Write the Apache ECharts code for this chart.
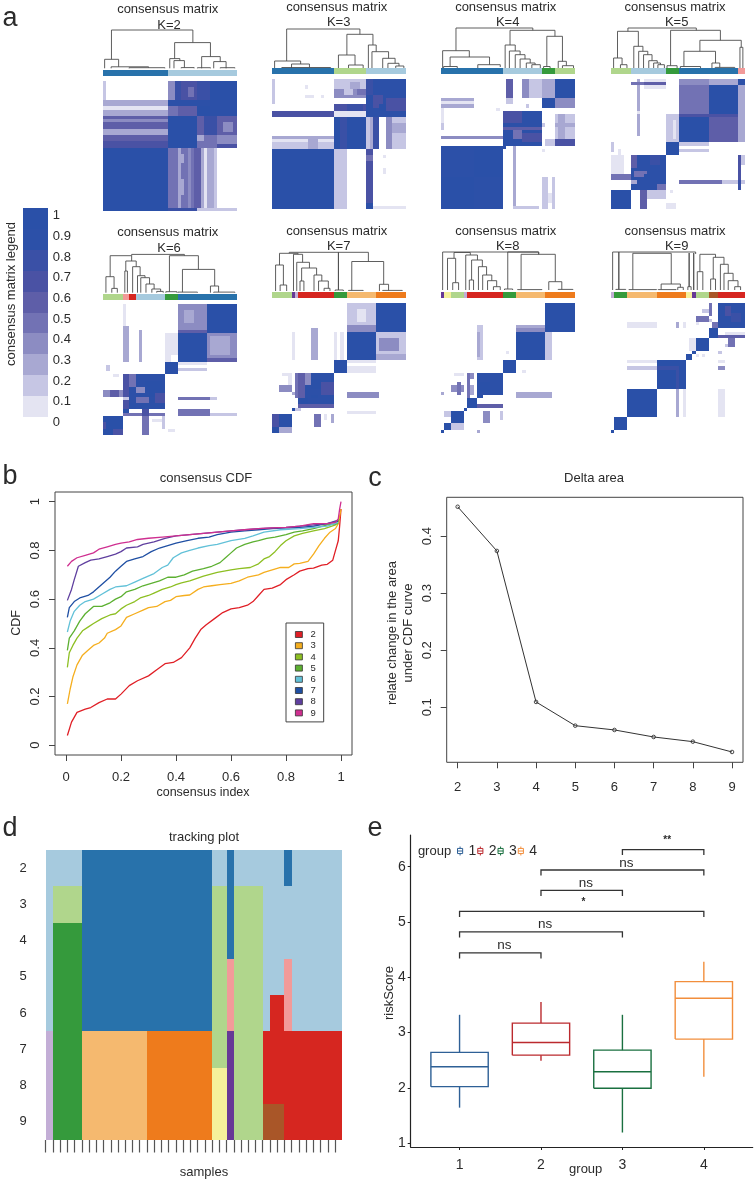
<!DOCTYPE html>
<html><head><meta charset="utf-8">
<style>html,body{margin:0;padding:0;background:#fff}#c{width:755px;height:1181px}</style>
<script src="https://cdn.jsdelivr.net/npm/echarts@6/dist/echarts.min.js"></script>
</head><body><div id="c"></div>
<script>
// ---------- shared ----------
const FONT = '"Liberation Sans", Arial, sans-serif';
const TXT = '#2b2b2b';
const sampleCount = 41;
// consensus legend, top band (1) to bottom band (0.1)
const legendLabels = [1,0.9,0.8,0.7,0.6,0.5,0.4,0.3,0.2,0.1,0];
const consensusColors = ['#2a50a8','#2c50a8','#3a50a6','#4a52a4','#5e5ea8','#7272b4','#8c8cc2','#a8a8d2','#c6c6e4','#e4e4f2'];
// cluster palette
const LB='#a6cade',BL='#2872ab',LG='#b0d68c',GR='#359a3c',PK='#f29a99',RD='#d62620',LO='#f5b96f',OR='#ee7b1c',LI='#c3aed6',PU='#663996',YE='#f5f19b',BR='#a95628';

// ---------- panel a: cluster bars, run lists [count,colour] ----------
const bar2=[[20,BL],[21,LB]];
const bar3=[[19,BL],[10,LG],[12,LB]];
const bar4=[[19,BL],[12,LB],[4,GR],[6,LG]];
const bar5=[[6,LG],[11,LB],[4,GR],[18,BL],[2,PK]];
const bar6=[[6,LG],[2,PK],[2,RD],[9,LB],[4,GR],[18,BL]];
const bar7=[[6,LG],[1,PU],[1,LI],[11,RD],[4,GR],[9,LO],[9,OR]];
const bar8=[[1,PU],[2,YE],[4,LG],[1,LI],[11,RD],[4,GR],[9,LO],[9,OR]];
const bar9=[[1,LI],[4,GR],[9,LO],[9,OR],[2,YE],[1,PU],[4,LG],[3,BR],[8,RD]];

// ---------- panel a: consensus blocks [col0,col1,row0,row1,value], later blocks overwrite ----------
const blocks2=[[0,20,21,41,1],[20,23,21,41,.5],[23,24,21,41,.3],[24,28,21,41,.5],[24,25,23,26,.3],[24,25,31,36,.3],[26,27,21,40,.4],[28,30,21,41,.6],[30,31,21,41,.3],[31,32,21,41,.1],[32,34,21,41,.3],[34,35,21,41,.2],[20,29,40,41,.8],[29,41,40,41,.2],
[0,1,0,6,.2],[0,20,6,8,.3],[0,20,8,9,.1],[0,20,9,11,.3],[0,20,11,21,.6],[0,20,12,13,.4],[0,20,15,17,.3],[0,20,19,21,.7],
[20,22,0,6,.4],[22,24,0,6,.8],[24,29,0,6,.7],[26,28,2,5,.5],[29,33,0,6,.85],[33,41,0,6,1],[20,41,6,8,.9],[20,23,8,11,.5],[23,29,8,11,.65],[29,33,8,11,1],[33,41,8,11,.9],
[20,29,11,21,1],[29,31,11,17,.6],[31,35,11,17,.8],[35,41,11,17,.6],[37,40,13,16,.4],[29,35,17,21,.5],[35,41,17,21,.4],[35,41,20,21,.7],[29,31,17,19,.3]];
const blocks3=[[0,1,0,8,.2],[10,11,2,3,.1],[10,13,5,6,.1],[15,16,5,6,.1],[0,19,10,12,.7],[0,19,18,19,.3],[0,19,19,20,.15],[0,19,20,22,.25],[11,14,18,22,.3],[0,19,22,41,1],
[19,29,0,3,.2],[24,27,1,3,.35],[19,29,3,6,.4],[22,25,3,5,.2],[26,29,3,5,.5],[19,29,8,10,.7],[23,28,8,10,.85],[19,29,10,12,.1],[19,29,12,22,1],[21,23,12,22,.85],[19,23,22,41,.2],[19,21,22,32,.25],
[29,41,0,12,.9],[29,31,0,5,.8],[31,34,5,9,.7],[33,35,8,10,1],[29,30,10,12,1],[35,41,6,10,.75],[29,30,12,22,.25],[30,31,12,22,.35],[31,33,12,22,.8],[33,35,12,22,0],[35,37,12,22,.45],[37,41,12,22,.2],[37,41,14,17,.3],[29,31,22,41,.7],[29,31,24,26,.5],[29,31,39,41,.9],[31,41,40,41,.15],[34,35,24,25,.1],[34,35,28,30,.1]];
const blocks4=[[0,10,6,7,.3],[0,10,7,8,.15],[0,10,8,9,.35],[0,1,9,15,.15],[0,1,14,16,.2],[17,18,9,10,.15],[0,19,18,19,.4],[20,22,0,6,.6],[20,22,6,8,.25],[25,27,0,6,.4],[27,31,0,6,.2],[31,35,0,6,.35],[35,41,0,6,1],[31,35,6,9,1],[35,41,6,9,.4],[26,27,8,9,.2],
[19,31,10,21,.9],[19,25,10,14,.7],[22,25,16,19,.5],[19,31,15,16,.6],[19,21,19,21,1],[25,31,17,20,.75],[31,32,14,15,.2],[35,41,11,19,.2],[36,38,11,19,.3],[35,41,14,15,.35],[35,41,19,21,.75],[32,35,19,21,.2],
[0,19,21,41,1],[0,10,21,31,.9],[10,19,31,41,.9],[19,20,21,22,.9],[22,23,21,41,.3],[31,33,31,41,.25],[34,35,31,41,.25],[33,34,36,39,.15],[22,30,40,41,.2],[31,32,22,23,.15]];
const blocks5=[[21,30,0,2,.4],[30,39,0,2,.3],[39,41,0,2,.9],[21,30,2,11,.55],[30,39,2,11,1],[39,41,2,20,.3],[21,30,11,20,1],[30,39,11,20,.6],[21,39,11,12,.75],
[17,21,11,20,.2],[19,20,13,19,.1],[8,9,0,18,.3],[8,9,10,11,.1],[6,17,1,2,.5],[10,17,0,3,.15],[10,17,1,2,.6],
[17,21,20,24,1],[21,30,20,21,.2],[21,30,22,23,.2],[0,1,20,23,.2],[2,3,22,24,.1],
[6,17,24,35,.9],[6,8,24,28,.6],[12,15,24,27,.8],[7,11,29,31,.5],[10,12,30,32,1],[6,8,33,35,1],[0,2,24,30,.15],[2,4,24,30,.15],[0,6,30,32,.5],[6,8,32,33,.3],[14,17,33,35,.5],
[0,6,35,41,1],[9,11,35,41,.6],[11,17,35,38,.2],[17,20,39,41,.15],[18,19,35,36,.15],
[39,40,24,35,.7],[40,41,24,27,.2],[21,34,32,33,.5],[34,41,32,33,.2],[39,40,32,35,.8]];
const blocks6=[[23,32,0,9,.45],[25,28,2,6,.35],[23,32,8,9,.6],[32,41,0,9,1],[23,32,9,18,1],[32,41,9,18,.45],[33,39,10,16,.35],[32,41,17,18,.6],[6,7,0,7,.1],[6,8,7,18,.35],[11,12,8,18,.35],[19,21,9,18,.15],[21,23,9,16,.15],
[19,23,18,22,1],[23,32,18,19,.15],[23,32,20,21,.2],[1,2,19,21,.2],[3,5,22,23,.15],
[8,19,22,33,.9],[8,10,22,26,.5],[6,8,22,33,.7],[13,18,24,27,1],[10,13,26,28,.4],[14,16,27,29,1],[16,19,28,31,.7],[10,14,29,31,.5],[0,6,27,29,.4],[2,5,27,29,.6],[8,10,31,33,1],[6,8,29,30,.2],[6,8,33,34,1],[6,19,34,35,.5],[12,14,33,35,.75],
[23,33,29,30,.5],[33,35,29,30,.2],[23,33,33,35,.5],[33,41,34,35,.2],[0,6,35,41,1],[0,1,37,39,.7],[3,6,39,41,.7],[12,14,35,41,.5],[15,19,36,37,.15],[18,19,35,39,.2],[20,22,39,40,.15]];
const blocks7=[[23,32,0,9,.25],[26,29,2,6,.15],[23,32,7,9,.45],[32,41,0,9,1],[23,32,9,18,1],[32,41,9,18,.25],[33,39,11,15,.4],[32,41,16,18,.35],[6,7,9,18,.15],[12,14,8,18,.35],[19,20,9,18,.12],[21,22,9,18,.12],
[19,23,18,22,1],[23,32,18,19,.15],[23,32,20,22,.15],[3,6,22,23,.15],[5,6,23,26,.15],
[8,19,22,32,.9],[10,12,22,26,.4],[8,10,22,30,.6],[7,8,22,30,.5],[12,15,24,27,1],[15,19,25,29,.7],[2,6,26,28,.45],[6,7,28,29,.3],[12,14,29,30,1],[9,11,30,33,1],[8,19,32,33,.6],[6,7,33,34,1],[7,9,33,34,.2],
[23,33,28,30,.4],[23,32,34,35,.15],[2,6,35,39,1],[0,2,35,39,.7],[0,2,39,41,1],[2,6,39,41,.3],[13,15,35,39,.5],[18,19,35,38,.3],[16,17,35,37,.15]];
const blocks8=[[32,41,0,9,1],[23,32,7,9,.3],[23,32,8,9,.4],[32,34,9,18,.25],[23,32,9,18,1],[11,13,7,18,.25],[11,12,9,17,.35],[20,21,15,16,.15],
[19,23,18,22,1],[25,26,21,22,.15],[8,9,22,32,.5],[4,7,22,23,.15],[11,19,22,29,.9],[12,15,25,28,1],[9,10,22,24,.4],[9,10,26,29,.3],[3,7,26,28,.4],[5,6,25,29,.5],[0,1,28,29,.3],[23,34,28,30,.3],[8,11,30,33,1],[11,13,29,30,1],[11,19,32,33,.6],[7,8,33,34,1],
[3,7,34,38,1],[1,3,34,36,.2],[13,15,34,38,.4],[18,19,34,37,.2],[1,3,38,40,1],[3,7,38,40,.25],[0,1,40,41,1],[11,12,40,41,.3]];
const blocks9=[[33,41,0,8,.9],[35,37,1,4,.75],[37,40,3,6,.8],[30,31,0,4,.5],[28,30,2,3,.2],[26,30,4,6,.5],[30,31,5,6,.2],[5,14,6,8,.15],[20,21,6,8,.3],[22,23,6,8,.15],[26,27,6,7,.15],[31,33,6,8,.5],
[30,33,8,11,1],[33,41,10,11,.6],[35,41,9,10,.15],[36,38,11,14,.5],[35,36,13,14,.2],[26,30,11,15,1],[24,26,11,15,.15],[25,26,15,16,1],[23,25,16,18,1],[26,27,16,17,.15],[28,29,16,17,.15],[33,34,15,16,.2],
[14,23,18,27,1],[20,21,20,27,.8],[5,14,18,19,.15],[5,14,20,21,.25],[14,20,20,21,.8],[33,35,18,19,.15],[33,35,20,21,.4],[5,14,27,36,1],[20,21,27,36,.3],[22,23,27,36,.1],[33,35,27,36,.15],[1,5,36,40,1],[0,1,40,41,1]];

// ---------- panel a: dendrogram merges [x1,h1,x2,h2,top] (sample position, height) ----------
const dend2=[[2.6,9,27.6,25.7,38.3],[.5,0,4.8,1.5,9],[2.5,0,14,.6,1.5],[8,0,19,0,.6],[22,9.7,33,11.7,25.7],[20.5,0,23.6,7.7,9.7],[21.8,0,25,.7,7.7],[24,0,28,0,.7],[30.3,0,36,6.7,11.7],[34,0,37.8,0,6.7],[29,0,33,0,.6],[36,0,40.5,0,.6]];
const dend3=[[4.5,7,27,33.7,39],[.8,0,8.8,4,7],[6,0,11.5,.5,4],[3,0,18,0,.5],[23,13,31,23,33.7],[20.4,0,25.5,3,13],[23.5,0,28,0,3],[29.6,0,32,16.3,23],[30.7,0,35.8,9.7,16.3],[34,0,37.8,4.7,9.7],[35.6,0,39,2,4.7],[38,0,40.5,0,2]];
const dend4=[[4.6,17.3,28.2,37.7,40],[.5,0,8.7,11,17.3],[2.8,1.5,14.9,3.3,11],[.8,0,5,0,1.5],[11.3,0,18.2,1,3.3],[21.2,23,35,31.7,37.7],[19.7,0,22.8,17,23],[21,0,24.3,13.3,17],[22.8,0,25.8,9,13.3],[24.3,0,27.4,5,9],[26.2,0,28.9,3.3,5],[27.9,0,30.5,0,3.3],[32.5,1.5,37.3,6.7,31.7],[31.5,0,33.5,0,1.5],[36,0,38.5,2.3,6.7],[37.3,0,40.7,0,2.3]];
const dend5=[[5.2,36.7,26.2,37.7,40],[2,10,8.4,21.7,36.7],[.8,0,3.4,3.3,10],[2.9,0,4.9,0,3.3],[7,0,9.8,16.7,21.7],[8.5,0,11.3,13.3,16.7],[10,0,12.6,7.3,13.3],[11.6,0,14.2,5,7.3],[13.1,0,15.2,3.3,5],[14.4,0,16.4,0,3.3],[18.3,2.3,33.6,27.7,37.7],[17.2,0,20.3,0,2.3],[27.3,16.7,40,20.7,27.7],[22.4,1.5,32.1,5,16.7],[21.3,0,27.5,0,1.5],[31,0,33.4,.6,5],[32,0,38,0,.6],[39.6,0,40.5,0,20.7]];
const dend6=[[8.8,37,25,37,38.3],[2.2,16,8.8,31.7,37],[.9,0,3.4,4.3,16],[2.7,0,4.4,0,4.3],[7,21.7,10.2,26,31.7],[6.7,0,7.5,0,21.7],[9.1,0,11.4,17,26],[10.6,0,12.9,15,17],[11.6,0,14.3,8.7,15],[13.2,0,15.7,3.7,8.7],[15,0,17.7,1.3,3.7],[16.5,0,18.5,0,1.3],[20.4,1,29.3,23.3,37],[19.3,0,22.7,0,1],[24.4,.6,34.3,6.7,23.3],[23,0,29,0,.6],[33,0,35.5,.6,6.7],[34,0,40.5,0,.6]];
const dend7=[[5.3,37.7,29.6,29.5,38.7],[2.3,26,8,36.7,37.7],[1.1,0,3.5,6,26],[2.5,0,4.5,0,6],[6.6,0,9.4,28.7,36.7],[7.6,0,11.5,23,28.7],[9.1,10,13.7,16,23],[8.6,0,9.8,0,10],[12.9,0,15.3,10,16],[14.3,0,17.3,2.7,10],[16,0,17.8,0,2.7],[20.4,1,20.4,1,38.7],[19.4,0,21.9,0,1],[24.5,.6,34.3,6.7,29.5],[23.5,0,28,0,.6],[33,0,35.8,.6,6.7],[34,0,40,0,.6]];
const dend8=[[.5,0,30,35.7,38],[20.5,1,30,35.7,38],[19.5,0,22,0,1],[24.6,.4,35.1,8.3,35.7],[23.5,0,31,0,.4],[33.1,0,37.1,.6,8.3],[36,0,40.5,0,.6],[4,31.7,9,35,37.5],[2,0,4.5,7.3,31.7],[3.6,0,5.4,0,7.3],[7.6,0,11.2,30,35],[9.4,10,12.7,23.3,30],[8.7,0,10,0,10],[11.5,0,14,15,23.3],[12.8,0,15.6,9.3,15],[14.3,0,17.1,3.3,9.3],[16.1,0,18.2,0,3.3]];
const dend9=[[.5,0,26,36,38],[2.4,.6,2.4,.6,38],[1.5,0,4.5,0,.6],[6.7,.4,18.5,6,36.7],[5.5,0,14,0,.4],[15.4,.4,21.3,2.7,6],[14.5,0,20,0,.4],[20.5,0,22.2,0,2.7],[24,3.3,24,3.3,37],[23.6,0,24.6,0,3.3],[25.4,0,25.4,0,37],[27.3,18.3,32.1,32.7,35.7],[26.5,0,28.2,0,18.3],[31.4,11,34.7,25.7,32.7],[30.6,0,32.1,0,11],[33.6,0,36,16.7,25.7],[34.7,0,37.5,9.3,16.7],[36,0,39,3.3,9.3],[38,0,39.8,0,3.3]];

// ---------- panel b: CDF curves, [consensus index, CDF] ----------
const cdf2=[[.005,.04],[.02,.095],[.04,.135],[.07,.148],[.09,.155],[.12,.175],[.15,.19],[.18,.19],[.2,.21],[.23,.245],[.26,.265],[.3,.285],[.33,.31],[.36,.335],[.39,.34],[.42,.36],[.45,.4],[.47,.44],[.49,.475],[.51,.495],[.54,.52],[.57,.545],[.6,.56],[.63,.565],[.66,.575],[.68,.59],[.7,.615],[.72,.64],[.75,.645],[.78,.66],[.8,.68],[.83,.7],[.85,.715],[.88,.725],[.9,.727],[.93,.74],[.95,.743],[.97,.76],[.98,.8],[.99,.84],[.995,.9],[1,.97]];
const cdf3=[[.005,.17],[.015,.23],[.025,.28],[.04,.33],[.06,.37],[.08,.39],[.1,.41],[.12,.42],[.14,.44],[.15,.46],[.18,.475],[.2,.49],[.22,.525],[.25,.54],[.28,.555],[.3,.565],[.33,.57],[.36,.59],[.38,.595],[.4,.61],[.43,.615],[.45,.617],[.48,.64],[.5,.65],[.53,.655],[.56,.66],[.6,.665],[.63,.675],[.66,.69],[.7,.7],[.72,.71],[.75,.72],[.78,.73],[.81,.73],[.83,.745],[.85,.747],[.88,.755],[.9,.785],[.92,.82],[.94,.85],[.96,.875],[.98,.89],[.99,.91],[1,.97]];
const cdf4=[[.005,.32],[.012,.38],[.025,.41],[.04,.44],[.06,.47],[.08,.485],[.1,.5],[.13,.52],[.16,.535],[.18,.54],[.2,.56],[.22,.575],[.25,.59],[.27,.605],[.3,.615],[.32,.625],[.35,.64],[.38,.65],[.4,.66],[.42,.667],[.45,.675],[.5,.695],[.55,.71],[.6,.72],[.63,.725],[.67,.73],[.7,.745],[.72,.765],[.74,.775],[.76,.795],[.78,.82],[.8,.84],[.83,.86],[.86,.87],[.9,.88],[.94,.89],[.98,.905],[.995,.93]];
const cdf5=[[.005,.39],[.012,.44],[.03,.47],[.05,.51],[.07,.54],[.1,.57],[.13,.57],[.16,.585],[.18,.6],[.2,.61],[.22,.63],[.25,.64],[.28,.655],[.31,.665],[.34,.675],[.37,.69],[.4,.69],[.43,.7],[.46,.715],[.5,.725],[.53,.735],[.56,.75],[.58,.77],[.6,.79],[.62,.81],[.65,.825],[.68,.835],[.7,.84],[.73,.85],[.76,.855],[.8,.865],[.83,.875],[.86,.88],[.9,.89],[.95,.905],[.99,.91]];
const cdf6=[[.005,.465],[.015,.51],[.03,.55],[.05,.575],[.07,.59],[.1,.6],[.13,.62],[.16,.64],[.18,.65],[.22,.655],[.25,.67],[.28,.685],[.32,.705],[.35,.73],[.37,.74],[.39,.77],[.42,.79],[.45,.8],[.48,.81],[.52,.82],[.55,.825],[.6,.84],[.65,.85],[.68,.86],[.72,.875],[.78,.885],[.85,.89],[.9,.895],[.95,.9],[.99,.915]];
const cdf7=[[.005,.525],[.012,.565],[.03,.59],[.05,.605],[.08,.615],[.1,.63],[.13,.66],[.16,.69],[.18,.715],[.2,.735],[.22,.755],[.25,.765],[.28,.775],[.31,.795],[.34,.81],[.37,.82],[.4,.83],[.44,.84],[.48,.85],[.52,.855],[.55,.865],[.6,.875],[.65,.88],[.7,.885],[.75,.89],[.8,.893],[.85,.895],[.9,.9],[.95,.91],[.99,.92]];
const cdf8=[[.005,.595],[.02,.64],[.03,.68],[.045,.735],[.07,.75],[.09,.76],[.12,.765],[.15,.775],[.18,.785],[.2,.795],[.22,.81],[.26,.815],[.28,.825],[.32,.835],[.36,.85],[.4,.86],[.45,.865],[.5,.87],[.55,.875],[.6,.88],[.65,.885],[.7,.89],[.75,.893],[.8,.895],[.85,.9],[.9,.905],[.95,.91],[.99,.925]];
const cdf9=[[.005,.735],[.02,.755],[.04,.77],[.07,.78],[.1,.79],[.12,.805],[.15,.815],[.18,.825],[.2,.83],[.23,.835],[.26,.845],[.3,.85],[.35,.855],[.4,.86],[.45,.865],[.5,.87],[.55,.875],[.6,.88],[.65,.885],[.7,.89],[.75,.893],[.8,.895],[.85,.9],[.9,.91],[.95,.91],[.98,.915],[.99,.93],[.995,.97],[1,1]];
const cdfColors=['#e01f26','#f5ae1e','#8dbf22','#5cb031','#62c1d8','#1f4fa3','#5f3f9f','#cf2f90'];
const cdfTicks=[0,.2,.4,.6,.8,1];

// ---------- panel c ----------
const deltaK=[2,3,4,5,6,7,8,9];
const deltaArea=[.4514,.374,.1093,.0677,.0602,.0479,.0397,.0216];
const deltaTicks=[.1,.2,.3,.4];

// ---------- panel d: tracking plot, per K row of runs [count,colour] ----------
const trackRows=['2','3','4','5','6','7','8','9'];
const track2=[[5,LB],[18,BL],[2,LB],[1,BL],[7,LB],[1,BL],[7,LB]];
const track3=[[1,LB],[4,LG],[18,BL],[2,LG],[1,BL],[4,LG],[11,LB]];
const track4=[[1,LB],[4,GR],[18,BL],[2,LG],[1,BL],[4,LG],[11,LB]];
const track5=[[1,LB],[4,GR],[18,BL],[2,LG],[1,PK],[4,LG],[3,LB],[1,PK],[7,LB]];
const track6=[[1,LB],[4,GR],[18,BL],[2,LG],[1,PK],[4,LG],[1,LB],[2,RD],[1,PK],[7,LB]];
const track7=[[1,LI],[4,GR],[9,LO],[9,OR],[2,LG],[1,PU],[4,LG],[11,RD]];
const track8=[[1,LI],[4,GR],[9,LO],[9,OR],[2,YE],[1,PU],[4,LG],[11,RD]];
const track9=[[1,LI],[4,GR],[9,LO],[9,OR],[2,YE],[1,PU],[4,LG],[3,BR],[8,RD]];

// ---------- panel e: [group, low, q1, median, q3, high] ----------
const box1=[1,1.64,2.02,2.38,2.64,3.32];
const box2=[2,2.49,2.59,2.82,3.17,3.55];
const box3=[3,1.19,1.99,2.29,2.68,3.32];
const box4=[4,2.2,2.88,3.62,3.92,4.28];
const boxColors=['#2e6096','#bb2a2e','#1a7040','#f28e3c'];
// [from, to, height, label x]
const sigBrackets=[[1,2,4.44,1.55],[1,3,4.82,2.05],[1,4,5.19,2.52],[2,3,5.57,2.55],[2,4,5.94,3.05],[3,4,6.31,3.55]];
const sigLabels=['ns','ns','*','ns','ns','**'];

// ---------- builders ----------
const grids=[],xAxes=[],yAxes=[],series=[],graphics=[];
function addGrid(box,x,y){
  grids.push(Object.assign({containLabel:false},box));
  const i=grids.length-1;
  xAxes.push(Object.assign({gridIndex:i},x));
  yAxes.push(Object.assign({gridIndex:i},y));
  return i;
}
function text(t,x,y,size,opt){
  graphics.push(Object.assign({type:'text',x,y,silent:true,style:{text:t,fill:TXT,font:size+'px '+FONT,textAlign:'center',textVerticalAlign:'middle'}},opt||{}));
}
const hiddenAxis=(max,inverse)=>({type:'value',min:0,max,show:false,inverse:!!inverse});
const bandColor=v=>v<=0?'#fff':consensusColors[Math.min(9,Math.round((1-v)*10))];
// a list of [col0,col1,row0,row1] rectangles, each with its colour
function cellSeries(gi,rects,colors){
  series.push({type:'custom',xAxisIndex:gi,yAxisIndex:gi,data:rects,silent:true,animation:false,clip:false,
    renderItem:(params,api)=>{
      const a=api.coord([api.value(0),api.value(2)]),b=api.coord([api.value(1),api.value(3)]);
      const x=Math.round(a[0]),y=Math.round(a[1]);
      return {type:'rect',shape:{x,y,width:Math.round(b[0])-x,height:Math.round(b[1])-y},style:{fill:colors[params.dataIndex],lineWidth:0,stroke:null}};
    }});
}
function runRects(runs,row){
  const rects=[],colors=[];let c=0;
  runs.forEach(([n,col])=>{rects.push([c,c+n,row,row+1]);colors.push(col);c+=n;});
  return {rects,colors};
}
function dendroRender(params,api){
  const [x1,h1,x2,h2,top]=[0,1,2,3,4].map(i=>api.value(i));
  const pts=[api.coord([x1,h1]),api.coord([x1,top]),api.coord([x2,top]),api.coord([x2,h2])];
  return {type:'polyline',shape:{points:pts},style:{stroke:'#4d4d4d',fill:null,lineWidth:.9}};
}

// ---------- panel a ----------
const K=[
 {k:2,x:103,my:81, mh:130,barY:69.7,barH:6,base:68.3,bar:bar2,b:blocks2,d:dend2,tx:167.7,t1:9.3,tk:169,t2:25},
 {k:3,x:272,my:79, mh:130,barY:68.3,barH:6,base:68,bar:bar3,b:blocks3,d:dend3,tx:336.7,t1:7.3,tk:338.7,t2:22.7},
 {k:4,x:441,my:79, mh:130,barY:68.3,barH:6,base:68,bar:bar4,b:blocks4,d:dend4,tx:505.7,t1:7.3,tk:507.7,t2:22.7},
 {k:5,x:611,my:79, mh:130,barY:68.3,barH:6,base:68,bar:bar5,b:blocks5,d:dend5,tx:675,t1:7.3,tk:676.7,t2:22.7},
 {k:6,x:103,my:304,mh:131,barY:293.7,barH:6,base:292.7,bar:bar6,b:blocks6,d:dend6,tx:167.7,t1:232.7,tk:169,t2:248.3},
 {k:7,x:272,my:303,mh:130,barY:292.3,barH:6,base:291,bar:bar7,b:blocks7,d:dend7,tx:336.7,t1:231,tk:338.7,t2:246.7},
 {k:8,x:441,my:303,mh:130,barY:292.3,barH:6,base:290,bar:bar8,b:blocks8,d:dend8,tx:505.7,t1:231,tk:507.7,t2:246.7},
 {k:9,x:611,my:303,mh:130,barY:292.3,barH:6,base:290,bar:bar9,b:blocks9,d:dend9,tx:675,t1:231,tk:676.7,t2:246.7}
];
K.forEach(p=>{
  const w=133.5;
  let gi=addGrid({left:p.x,top:p.my,width:w,height:p.mh},hiddenAxis(sampleCount),hiddenAxis(sampleCount,true));
  cellSeries(gi,p.b.map(b=>b.slice(0,4)),p.b.map(b=>bandColor(b[4])));
  gi=addGrid({left:p.x,top:p.barY,width:w,height:p.barH},hiddenAxis(sampleCount),hiddenAxis(1,true));
  const r=runRects(p.bar,0);
  cellSeries(gi,r.rects,r.colors);
  gi=addGrid({left:p.x,top:p.base-40,width:w,height:40},hiddenAxis(sampleCount),hiddenAxis(40));
  series.push({type:'custom',xAxisIndex:gi,yAxisIndex:gi,data:p.d,renderItem:dendroRender,silent:true,clip:false,animation:false});
  text('consensus matrix',p.tx,p.t1,13);
  text('K='+p.k,p.tk,p.t2,13);
});

// consensus legend
let g=addGrid({left:23.3,top:208,width:24.5,height:209},hiddenAxis(1),hiddenAxis(consensusColors.length,true));
cellSeries(g,consensusColors.map((c,i)=>[0,1,i,i+1]),consensusColors);
g=addGrid({left:23.3,top:215.7,width:24.5,height:206.6},{type:'value',min:0,max:1,show:false},
 {type:'value',min:0,max:1,position:'right',axisLine:{show:false},axisTick:{show:false},splitLine:{show:false},
  axisLabel:{customValues:legendLabels,fontFamily:FONT,fontSize:13,color:TXT,margin:5,formatter:v=>String(v)}});
text('consensus matrix legend',11,294,13,{rotation:Math.PI/2});

// panel letters
[['a',10,19],['b',10,477],['c',375,479],['d',10,829],['e',375,829]].forEach(a=>text(a[0],a[1],a[2],27));

// ---------- panel b ----------
const boxAxis=(ticks,rot,margin)=>({
  axisLine:{show:false,onZero:false},splitLine:{show:false},
  axisTick:{show:true,length:6,lineStyle:{color:'#444',width:1},customValues:ticks},
  axisLabel:{customValues:ticks,fontFamily:FONT,fontSize:13,color:TXT,rotate:rot,margin:margin,formatter:v=>String(v),hideOverlap:false}
});
g=addGrid({left:55,top:492,width:297,height:263,show:true,borderColor:'#444',borderWidth:1},
 Object.assign({type:'value',min:-.04,max:1.04},boxAxis(cdfTicks,0,16)),
 Object.assign({type:'value',min:-.04,max:1.04},boxAxis(cdfTicks,90,13)));
[cdf2,cdf3,cdf4,cdf5,cdf6,cdf7,cdf8,cdf9].forEach((d,i)=>{
  series.push({type:'line',name:String(i+2),xAxisIndex:g,yAxisIndex:g,data:d,showSymbol:false,symbol:'none',silent:true,animation:false,
    lineStyle:{color:cdfColors[i],width:1.3},itemStyle:{color:cdfColors[i]}});
});
text('consensus CDF',206,478,13);
text('consensus index',203,793,12.5);
text('CDF',17,623,12.5,{rotation:Math.PI/2});

// ---------- panel c ----------
g=addGrid({left:446.7,top:497.3,width:296.3,height:265,show:true,borderColor:'#444',borderWidth:1},
 Object.assign({type:'value',min:1.72,max:9.28},boxAxis(deltaK,0,19)),
 Object.assign({type:'value',min:.0035,max:.468},boxAxis(deltaTicks,90,13)));
const deltaPts=deltaK.map((k,i)=>[k,deltaArea[i]]);
series.push({type:'line',xAxisIndex:g,yAxisIndex:g,data:deltaPts,showSymbol:false,symbol:'none',lineStyle:{color:'#333',width:1},silent:true,animation:false});
series.push({type:'scatter',xAxisIndex:g,yAxisIndex:g,data:deltaPts,symbolSize:9,itemStyle:{color:'#fff'},silent:true,animation:false});
series.push({type:'scatter',xAxisIndex:g,yAxisIndex:g,data:deltaPts,symbolSize:3.6,itemStyle:{color:'#fff',borderColor:'#222',borderWidth:1},silent:true,animation:false});
text('Delta area',594,478,13);
text('relate change in the area',392,633,13,{rotation:Math.PI/2});
text('under CDF curve',408,633,13,{rotation:Math.PI/2});

// ---------- panel d ----------
const rowCenters=trackRows.map((r,i)=>i+.5);
const dGrid=addGrid({left:45.7,top:850,width:296.6,height:290},
 {type:'value',min:0,max:sampleCount,position:'bottom',axisLine:{show:false,onZero:false},splitLine:{show:false},axisLabel:{show:false},
  axisTick:{show:true,length:12.5,lineStyle:{color:'#555',width:1.2},customValues:Array.from({length:sampleCount},(_,i)=>i)}},
 {type:'value',min:0,max:trackRows.length,inverse:true,axisLine:{show:false,onZero:false},axisTick:{show:false},splitLine:{show:false},
  axisLabel:{customValues:rowCenters,formatter:v=>trackRows[Math.floor(v)],fontFamily:FONT,fontSize:13,color:TXT,margin:19}});
const trackRects=[],trackColors=[];
[track2,track3,track4,track5,track6,track7,track8,track9].forEach((runs,i)=>{
  const r=runRects(runs,i);trackRects.push(...r.rects);trackColors.push(...r.colors);
});
cellSeries(dGrid,trackRects,trackColors);
text('tracking plot',204,837,13);
text('samples',204,1172,13);

// ---------- panel e ----------
const eTicksX=[1,2,3,4],eTicksY=[1,2,3,4,5,6];
const eAxis=(ticks,margin)=>({
  axisLine:{show:true,onZero:false,lineStyle:{color:'#222',width:1.2}},splitLine:{show:false},
  axisTick:{show:true,length:3,lineStyle:{color:'#222',width:1},customValues:ticks},
  axisLabel:{customValues:ticks,fontFamily:FONT,fontSize:14,color:TXT,margin,formatter:v=>String(v)}
});
g=addGrid({left:410.7,top:835,width:342,height:312},
 Object.assign({type:'value',min:.4,max:4.6},eAxis(eTicksX,11)),
 Object.assign({type:'value',min:.928,max:6.573},eAxis(eTicksY,5)));
const boxRender=color=>(params,api)=>{
  const v=[0,1,2,3,4,5].map(i=>api.value(i));const HW=.352;
  const L={stroke:color,fill:null,lineWidth:1.4};
  const ln=(a,b)=>({type:'polyline',shape:{points:[api.coord(a),api.coord(b)]},style:L});
  return {type:'group',children:[
    ln([v[0],v[1]],[v[0],v[2]]),ln([v[0],v[4]],[v[0],v[5]]),
    {type:'polyline',shape:{points:[api.coord([v[0]-HW,v[2]]),api.coord([v[0]+HW,v[2]]),api.coord([v[0]+HW,v[4]]),api.coord([v[0]-HW,v[4]]),api.coord([v[0]-HW,v[2]])]},style:L},
    ln([v[0]-HW,v[3]],[v[0]+HW,v[3]])
  ]};
};
[box1,box2,box3,box4].forEach((b,i)=>{
  series.push({type:'custom',name:'g'+(i+1),xAxisIndex:g,yAxisIndex:g,data:[b],renderItem:boxRender(boxColors[i]),silent:true,animation:false,itemStyle:{color:boxColors[i]}});
});
series.push({type:'custom',xAxisIndex:g,yAxisIndex:g,data:sigBrackets,silent:true,animation:false,clip:false,renderItem:(params,api)=>{
  const a=api.value(0),b=api.value(1),h=api.value(2),lx=api.value(3),lab=sigLabels[params.dataIndex];
  const star=lab.indexOf('*')>=0;
  const p=api.coord([lx,h+(star?.17:.13)]);
  return {type:'group',children:[
    {type:'polyline',shape:{points:[api.coord([a,h-.1]),api.coord([a,h]),api.coord([b,h]),api.coord([b,h-.1])]},style:{stroke:'#333',fill:null,lineWidth:1.3}},
    {type:'text',x:p[0],y:p[1],style:{text:lab,fill:TXT,font:(star?'bold 10':'13.5')+'px '+FONT,textAlign:'center',textVerticalAlign:'middle'}}
  ]};
}});
text('group',585.7,1169,13);
text('riskScore',389,993,13,{rotation:Math.PI/2});
text('group',434.5,851,13);

const boxIcon='path://M5 0V3M5 11V14M1 3H9V11H1ZM1 7H9';

const option={
  animation:false,backgroundColor:'#fff',textStyle:{fontFamily:FONT},
  grid:grids,xAxis:xAxes,yAxis:yAxes,series,graphic:graphics,
  legend:[
    {left:286,top:623,orient:'vertical',itemWidth:7,itemHeight:6,itemGap:1.2,padding:[6.5,8,4,9],borderColor:'#444',borderWidth:1,selectedMode:false,
     icon:'rect',data:['2','3','4','5','6','7','8','9'].map(n=>({name:n,itemStyle:{borderColor:'#333',borderWidth:.8}})),
     textStyle:{fontFamily:FONT,fontSize:9.5,color:TXT,lineHeight:9,padding:[0,0,0,3]}},
    {left:457,top:844,orient:'horizontal',itemWidth:7,itemHeight:9,itemGap:.9,padding:0,selectedMode:false,
     data:['g1','g2','g3','g4'].map((n,i)=>({name:n,icon:boxIcon,itemStyle:{color:'transparent',borderColor:boxColors[i],borderWidth:1}})),
     formatter:n=>n.slice(1),textStyle:{fontFamily:FONT,fontSize:14,color:TXT}}
  ]
};
const chart=echarts.init(document.getElementById('c'),null,{renderer:'canvas',width:755,height:1181});
chart.setOption(option);
</script></body></html>
